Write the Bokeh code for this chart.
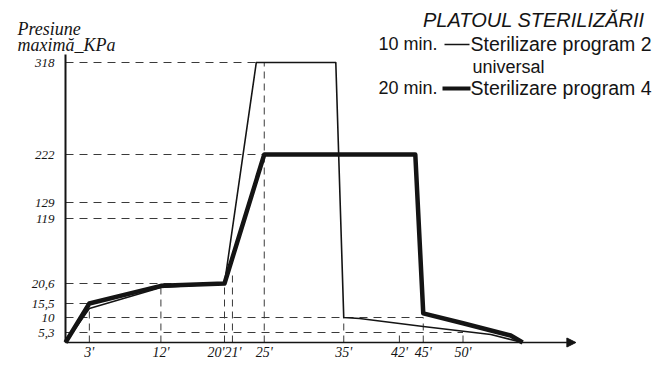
import numpy as np
from bokeh.plotting import figure
from bokeh.models import Range1d, FixedTicker, Label, Arrow, NormalHead, LinearAxis
from bokeh.embed import file_html
from bokeh.resources import INLINE

# ---------------- data (minutes, kPa) ----------------
# Sterilizare program 2 (universal, plateau 10 min) - thin line
time_p2 = [0, 3, 12, 20, 24, 34, 35, 37, 45, 53.5, 57.5]
pres_p2 = [0, 13.5, 19.6, 20.6, 318, 318, 10, 9.7, 7.2, 4.2, 0]
# Sterilizare program 4 (plateau 20 min) - thick line
time_p4 = [0, 3, 12, 20, 25, 44, 45, 50, 56, 57.5]
pres_p4 = [0, 15.5, 20.0, 20.6, 222, 222, 11.6, 8.2, 3.7, 0]

y_tick_values = [5.3, 10, 15.5, 20.6, 119, 129, 222, 318]
y_tick_labels = ["5,3", "10", "15,5", "20,6", "119", "129", "222", "318"]
x_tick_values = [3, 12, 20, 21, 25, 35, 42, 45, 50]
x_tick_labels = ["3'", "12'", "20'", "21'", "25'", "35'", "42'", "45'", "50'"]

# dashed reading guides: horizontal ones end at (minutes), vertical ones reach (kPa)
h_guide_end = [50, 45, 3, 20, 21, 21, 25, 24]
v_guide_top = [15.5, 20.0, 20.6, 40, 318, 10, 5.3, 10, 5.3]

# ---------------- hand-drawn (non-linear) pressure scale ----------------
# drawn height (px above the time axis) of each pressure tick level
y_scale_heights = [10, 25, 39, 59, 124, 140, 188, 280]


def ymap(v):
    return np.interp(v, [0] + y_tick_values, [0] + y_scale_heights)


W, H = 656, 368
PX_PER_MIN = 7.95
X0, Y0 = 65, 342  # canvas position of the origin


def at(px, py):
    return (px - X0) / PX_PER_MIN, Y0 - py


INK = "#141414"
HAND = "Liberation Serif"
PRINT = "Liberation Sans"

p = figure(width=W, height=H, output_backend="svg", toolbar_location=None,
           x_range=Range1d(-X0 / PX_PER_MIN, (W - X0) / PX_PER_MIN),
           y_range=Range1d(Y0 - H, Y0),
           x_axis_type=None, y_axis_type=None,
           min_border_left=0, min_border_right=0, min_border_top=0,
           min_border_bottom=0)
p.outline_line_color = None
p.xgrid.visible = False
p.ygrid.visible = False
p.background_fill_color = "white"
p.border_fill_color = "white"

# ---------------- axes (crossing at the origin) ----------------
xo = {v: lab for v, lab in zip(x_tick_values, x_tick_labels)}
# crowded neighbouring ticks (20' and 21') are written together
for i in range(len(x_tick_values) - 1):
    a, b = x_tick_values[i], x_tick_values[i + 1]
    if b - a < 1.5:
        xo[a] = x_tick_labels[i] + x_tick_labels[i + 1]
        xo[b] = ""
xaxis = LinearAxis(ticker=FixedTicker(ticks=x_tick_values),
                   major_label_overrides=xo, fixed_location=0)
xaxis.axis_line_color = None
xaxis.major_tick_line_color = None
xaxis.minor_tick_line_color = None
xaxis.major_tick_out = 0
xaxis.major_tick_in = 0
xaxis.major_label_standoff = 2
xaxis.major_label_text_font = HAND
xaxis.major_label_text_font_style = "italic"
xaxis.major_label_text_font_size = "14px"
xaxis.major_label_text_color = INK
p.add_layout(xaxis, "below")

yticks = [float(ymap(v)) for v in y_tick_values]
yo = {t: lab for t, lab in zip(yticks, y_tick_labels)}
yaxis = LinearAxis(ticker=FixedTicker(ticks=yticks),
                   major_label_overrides=yo, fixed_location=0)
yaxis.axis_line_color = None
yaxis.major_tick_line_color = None
yaxis.minor_tick_line_color = None
yaxis.major_tick_out = 0
yaxis.major_tick_in = 0
yaxis.major_label_standoff = 11
yaxis.major_label_text_font = HAND
yaxis.major_label_text_font_style = "italic"
yaxis.major_label_text_font_size = "13px"
yaxis.major_label_text_color = INK
p.add_layout(yaxis, "left")

# ---------------- guides ----------------
hy = [float(ymap(v)) for v in y_tick_values]
p.segment(x0=[0] * len(hy), y0=hy, x1=h_guide_end, y1=hy,
          line_color="#3a3a3a", line_width=1, line_dash="8 6")
p.segment(x0=x_tick_values, y0=[0] * len(x_tick_values), x1=x_tick_values,
          y1=[float(ymap(v)) for v in v_guide_top],
          line_color="#3a3a3a", line_width=1, line_dash="7 5")

# axis lines (hand drawn)
p.segment(x0=[0], y0=[0], x1=[0], y1=[float(ymap(max(y_tick_values))) + 8],
          line_color=INK, line_width=2)
p.add_layout(Arrow(end=NormalHead(size=9, fill_color=INK, line_color=INK),
                   x_start=0, y_start=0, x_end=64.2, y_end=0,
                   line_color=INK, line_width=1.6))

# ---------------- series ----------------
p.line(time_p2, ymap(pres_p2), line_color=INK, line_width=1.6, line_join="round")
p.line(time_p4, ymap(pres_p4), line_color=INK, line_width=4.5, line_join="round")


# ---------------- texts ----------------
def label(px, py, text, size, font=PRINT, style="normal", align="left"):
    x, y = at(px, py)
    p.add_layout(Label(x=x, y=y, text=text, text_font=font, text_font_size=size,
                       text_font_style=style, text_align=align,
                       text_baseline="middle", text_color=INK))


label(17, 28, "Presiune", "18px", HAND, "italic")
label(17, 44, "maximă_KPa", "18px", HAND, "italic")

label(644, 19, "PLATOUL STERILIZĂRII", "20px", PRINT, "italic", "right")
label(378, 43, "10 min.", "18px")
label(470, 43, "Sterilizare program 2", "19.5px")
label(472, 66, "universal", "18px")
label(378, 87, "20 min.", "18px")
label(470, 87, "Sterilizare program 4", "19.5px")

sx0, sy0 = at(444, 44)
sx1, _ = at(469, 44)
p.segment(x0=[sx0], y0=[sy0], x1=[sx1], y1=[sy0], line_color=INK, line_width=1.5)
tx0, ty0 = at(442, 88)
tx1, _ = at(470, 88)
p.segment(x0=[tx0], y0=[ty0], x1=[tx1], y1=[ty0], line_color=INK, line_width=4)

open("out.html", "w").write(file_html(p, INLINE))
